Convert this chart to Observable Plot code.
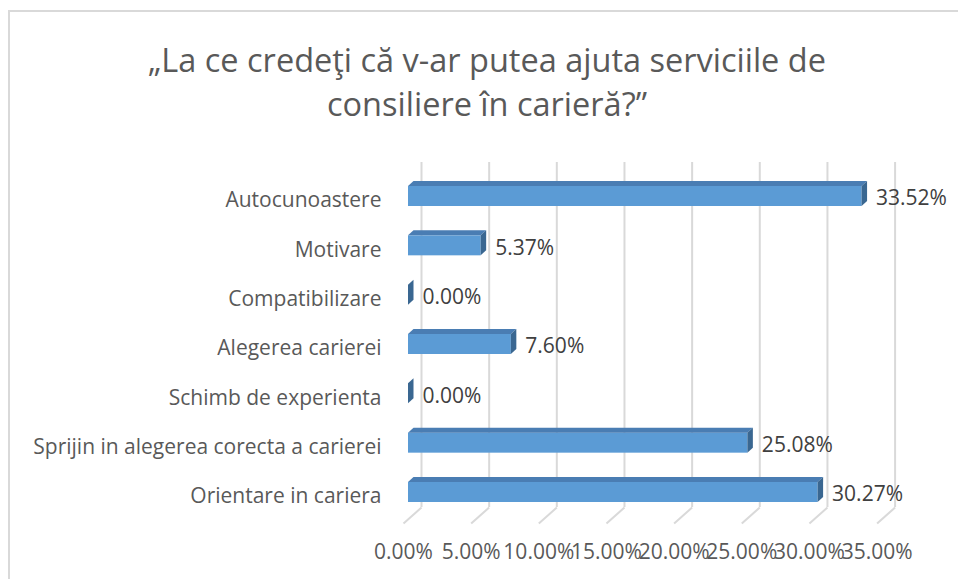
<!DOCTYPE html>
<html>
<head>
<meta charset="utf-8">
<script src="https://cdn.jsdelivr.net/npm/d3@7"></script>
<script src="https://cdn.jsdelivr.net/npm/@observablehq/plot@0.6"></script>
<style>
  html, body { margin: 0; padding: 0; background: #fff; }
  #wrap { position: relative; width: 958px; height: 579px; overflow: hidden; font-family: "Open Sans", sans-serif; }
  #frame { position: absolute; left: 8px; top: 10px; width: 960px; height: 580px; border-top: 2px solid #d9d9d9; border-left: 2px solid #d9d9d9; box-sizing: border-box; }
  #title { position: absolute; left: 9px; width: 956px; top: 38px; text-align: center; color: #595959; font-size: 32.5px; line-height: 44px; }
  #chart { position: absolute; left: 0; top: 140px; }
</style>
</head>
<body>
<div id="wrap">
  <div id="frame"></div>
  <div id="title">„La ce credeţi că v-ar putea ajuta serviciile de<br>consiliere în carieră?”</div>
  <div id="chart"></div>
</div>
<script>
const categories = [
  "Autocunoastere",
  "Motivare",
  "Compatibilizare",
  "Alegerea carierei",
  "Schimb de experienta",
  "Sprijin in alegerea corecta a carierei",
  "Orientare in cariera"
];
const values = [33.52, 5.37, 0.00, 7.60, 0.00, 25.08, 30.27];
const xTicks = [0, 5, 10, 15, 20, 25, 30, 35];

// layout
const W = 958, H = 439;
const mL = 408, mR = 76.4, mT = 22, mB = 72;
const yRange = [56, 352];
const pxPerX = (W - mL - mR) / 35;
const pxPerY = (yRange[1] - yRange[0]) / (categories.length - 1);
const xPx = p => p / pxPerX;          // pixels -> x units
const yPx = p => p / pxPerY;          // pixels -> y units
const yAt = p => (p - yRange[0]) / pxPerY;

const half = yPx(10);       // half bar height
const depthX = xPx(5.5);    // 3D depth offset
const depthY = yPx(5);

const rows = categories.map((c, i) => ({c, i, v: values[i]}));
const topFace = rows.flatMap(d => [
  {z: d.c, y: d.i - half, x1: 0, x2: d.v},
  {z: d.c, y: d.i - half - depthY, x1: depthX, x2: d.v + depthX}
]);
const sideFace = rows.flatMap(d => [
  {z: d.c, x: d.v, y1: d.i - half, y2: d.i + half},
  {z: d.c, x: d.v + depthX, y1: d.i - half - depthY, y2: d.i + half - depthY}
]);

const chart = Plot.plot({
  width: W, height: H,
  marginLeft: mL, marginRight: mR, marginTop: mT, marginBottom: mB,
  style: {fontFamily: "'Open Sans', sans-serif", background: "transparent"},
  x: {domain: [0, 35], axis: null},
  y: {domain: [0, categories.length - 1], range: yRange, axis: null},
  marks: [
    Plot.ruleX(xTicks, {x: d => d, dx: 13, stroke: "#d9d9d9", strokeWidth: 2}),
    Plot.link(xTicks, {x1: d => d + xPx(13), x2: d => d - xPx(5), y1: () => yAt(367), y2: () => yAt(383), stroke: "#d9d9d9", strokeWidth: 2}),
    Plot.rect(rows, {x1: 0, x2: "v", y1: d => d.i - half, y2: d => d.i + half, fill: "#5b9bd5"}),
    Plot.areaX(topFace, {y: "y", x1: "x1", x2: "x2", z: "z", fill: "#4a7db3", curve: "linear"}),
    Plot.areaY(sideFace, {x: "x", y1: "y1", y2: "y2", z: "z", fill: "#3a6791", curve: "linear"}),
    Plot.text(rows, {x: "v", y: "i", text: d => d.v.toFixed(2) + "%", dx: 14, dy: 2, textAnchor: "start", fontSize: 21, fill: "#404040"}),
    Plot.axisY(d3.range(categories.length), {tickFormat: i => categories[i], tickSize: 0, tickPadding: 27, dy: 4, fontSize: 21, fill: "#595959", label: null}),
    Plot.axisX(xTicks, {tickFormat: d => d.toFixed(2) + "%", tickSize: 0, tickPadding: 37, dx: -5, fontSize: 21, fill: "#595959", label: null})
  ]
});
document.getElementById("chart").appendChild(chart);
</script>
</body>
</html>
